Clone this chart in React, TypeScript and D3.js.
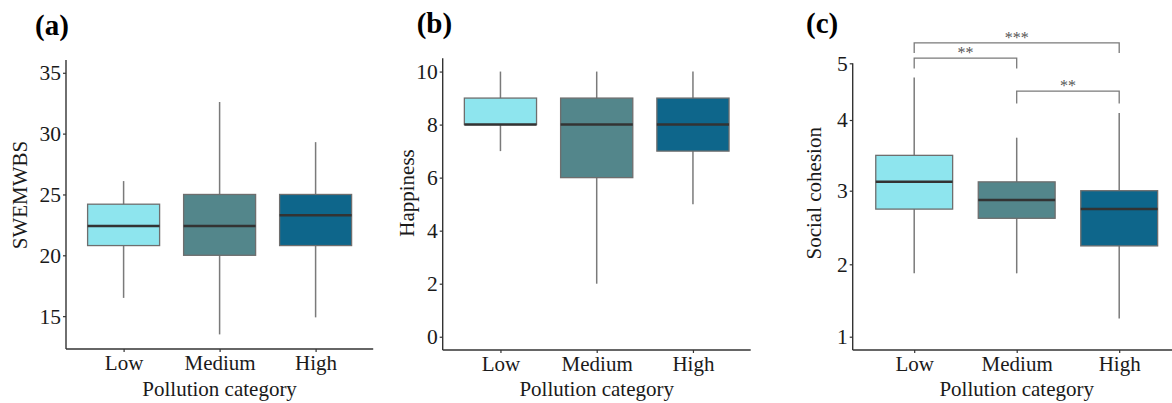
import React, { useRef, useEffect } from "react";
import * as d3 from "d3";

// values: [lower whisker, Q1, median, Q3, upper whisker]
const categories = ["Low", "Medium", "High"];
const boxColors = ["#8EE5EE", "#53868B", "#0E668B"];

const swemwbsStats = [
  [16.5, 20.8, 22.4, 24.2, 26.1],
  [13.5, 20.0, 22.4, 25.0, 32.6],
  [14.9, 20.8, 23.3, 25.0, 29.3],
];
const happinessStats = [
  [7, 8, 8, 9, 10],
  [2, 6, 8, 9, 10],
  [5, 7, 8, 9, 10],
];
const cohesionStats = [
  [1.875, 2.75, 3.125, 3.5, 4.75],
  [1.875, 2.625, 2.875, 3.125, 3.75],
  [1.25, 2.25, 2.75, 3.0, 4.125],
];

const swemwbsTicks = [15, 20, 25, 30, 35];
const happinessTicks = [0, 2, 4, 6, 8, 10];
const cohesionTicks = [1, 2, 3, 4, 5];

// significance brackets for panel (c): y of bar and tip end in data units
const sigFrom = ["Low", "Low", "Medium"];
const sigTo = ["Medium", "High", "High"];
const sigLabels = ["**", "***", "**"];
const sigY = [5.09, 5.36, 4.51];
const sigTip = [4.91, 5.18, 4.29];

const FONT = "'Liberation Serif', 'Times New Roman', serif";

function App() {
  const svgRef = useRef(null);

  useEffect(() => {
    const svg = d3.select(svgRef.current);
    svg.selectAll("*").remove();

    const panels = [
      {
        tag: "(a)", tagX: 35, tagY: 35,
        title: "SWEMWBS", titleX: 27, titleY: 195,
        stats: swemwbsStats, ticks: swemwbsTicks,
        y: d3.scaleLinear().domain([12.3, 36.05]).range([349, 60]),
        left: 66, step: 96,
      },
      {
        tag: "(b)", tagX: 416.7, tagY: 33.3,
        title: "Happiness", titleX: 414, titleY: 193,
        stats: happinessStats, ticks: happinessTicks,
        y: d3.scaleLinear().domain([-0.5, 10.5]).range([350, 58.3]),
        left: 442.7, step: 96.25,
      },
      {
        tag: "(c)", tagX: 806, tagY: 32.5,
        title: "Social cohesion", titleX: 821, titleY: 193.3,
        stats: cohesionStats, ticks: cohesionTicks,
        // the printed axis is not evenly spaced between 4 and 5
        y: d3.scaleLinear().domain([0.82, 1, 2, 3, 4, 5]).range([350, 336.7, 264.3, 190.7, 120, 63.3]),
        left: 852.7, step: 102.5,
      },
    ];

    panels.forEach((p, pi) => {
      const g = svg.append("g");
      const [bottom, top] = [p.y.range()[0], p.y.range()[p.y.range().length - 1]];
      const x = d3.scalePoint()
        .domain(categories)
        .range([p.left, p.left + p.step * 3.2])
        .padding(0.6);
      const boxW = p.step * 0.75;

      // whiskers
      g.selectAll(".whisker")
        .data(p.stats)
        .enter()
        .append("line")
        .attr("x1", (d, i) => x(categories[i]))
        .attr("x2", (d, i) => x(categories[i]))
        .attr("y1", (d) => p.y(d[0]))
        .attr("y2", (d) => p.y(d[4]))
        .attr("stroke", "#7a7a7a")
        .attr("stroke-width", 1.5);

      g.selectAll(".box")
        .data(p.stats)
        .enter()
        .append("rect")
        .attr("x", (d, i) => x(categories[i]) - boxW / 2)
        .attr("y", (d) => p.y(d[3]))
        .attr("width", boxW)
        .attr("height", (d) => p.y(d[1]) - p.y(d[3]))
        .attr("fill", (d, i) => boxColors[i])
        .attr("stroke", "#6e6e6e")
        .attr("stroke-width", 1.3);

      g.selectAll(".median")
        .data(p.stats)
        .enter()
        .append("line")
        .attr("x1", (d, i) => x(categories[i]) - boxW / 2)
        .attr("x2", (d, i) => x(categories[i]) + boxW / 2)
        .attr("y1", (d) => p.y(d[2]))
        .attr("y2", (d) => p.y(d[2]))
        .attr("stroke", "#333")
        .attr("stroke-width", 2.5);

      // axes
      const yAxis = g.append("g")
        .attr("transform", "translate(" + p.left + ",0)")
        .call(d3.axisLeft(p.y).tickValues(p.ticks).tickSize(3).tickPadding(2).tickFormat(d3.format("d")));
      yAxis.select(".domain").attr("d", "M0," + top + "V" + bottom);

      const xAxis = g.append("g")
        .attr("transform", "translate(0," + bottom + ")")
        .call(d3.axisBottom(x).tickSize(3).tickPadding(3));
      xAxis.select(".domain").attr("d", "M" + p.left + ",0H" + (p.left + p.step * 3.2));

      [yAxis, xAxis].forEach((ax) => {
        ax.select(".domain").attr("stroke", "#333").attr("stroke-width", 1.4);
        ax.selectAll(".tick line").attr("stroke", "#333").attr("stroke-width", 1.2);
        ax.selectAll("text").attr("fill", "#1a1a1a").style("font-family", FONT);
      });
      yAxis.selectAll("text").style("font-size", "21.5px");
      xAxis.selectAll("text").style("font-size", "21px");

      g.append("text")
        .attr("x", p.left + p.step * 1.6)
        .attr("y", 396)
        .attr("text-anchor", "middle")
        .style("font-family", FONT)
        .style("font-size", "21px")
        .attr("fill", "#1a1a1a")
        .text("Pollution category");

      g.append("text")
        .attr("transform", "translate(" + p.titleX + "," + p.titleY + ")rotate(-90)")
        .attr("text-anchor", "middle")
        .style("font-family", FONT)
        .style("font-size", "21px")
        .attr("fill", "#1a1a1a")
        .text(p.title);

      g.append("text")
        .attr("x", p.tagX)
        .attr("y", p.tagY)
        .style("font-family", FONT)
        .style("font-size", "29px")
        .style("font-weight", "bold")
        .attr("fill", "#000")
        .text(p.tag);

      if (pi === 2) {
        sigLabels.forEach((lab, i) => {
          const xa = x(sigFrom[i]), xb = x(sigTo[i]);
          const yb = p.y(sigY[i]), yt = p.y(sigTip[i]);
          g.append("path")
            .attr("d", "M" + xa + "," + yt + "V" + yb + "H" + xb + "V" + yt)
            .attr("fill", "none")
            .attr("stroke", "#7a7a7a")
            .attr("stroke-width", 1.3);
          g.append("text")
            .attr("x", (xa + xb) / 2)
            .attr("y", yb)
            .attr("text-anchor", "middle")
            .style("font-family", FONT)
            .style("font-size", "16px")
            .attr("fill", "#555")
            .text(lab);
        });
      }
    });
  }, []);

  return (
    <svg
      ref={svgRef}
      width={1172}
      height={403}
      style={{ position: "absolute", left: 0, top: 0, background: "#fff" }}
    />
  );
}

export default App;
